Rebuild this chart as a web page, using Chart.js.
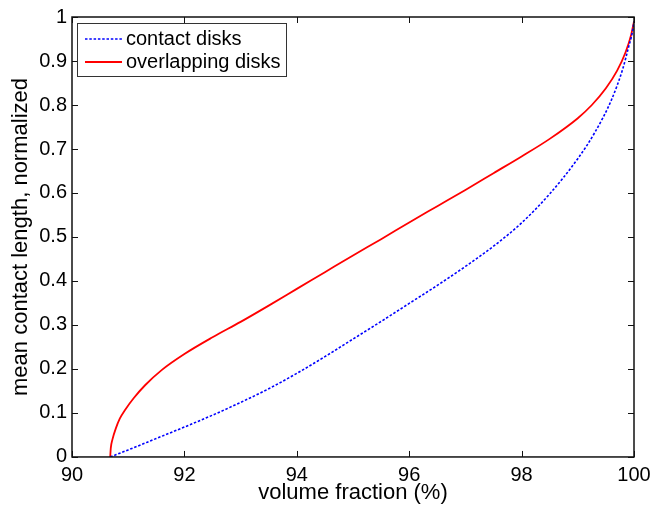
<!DOCTYPE html>
<html>
<head>
<meta charset="utf-8">
<script src="https://cdn.jsdelivr.net/npm/chart.js@4.4.1/dist/chart.umd.min.js"></script>
<style>
  html, body { margin: 0; padding: 0; background: #fff; }
  #wrap { width: 664px; height: 508px; }
</style>
</head>
<body>
<div id="wrap"><canvas id="fraction-chart" width="664" height="508"></canvas></div>
<script>
//
// Mean contact length vs volume fraction
//

// Data
var contactX = [90.68, 91, 91.5, 92, 92.5, 93, 93.5, 94, 94.5, 95, 95.5, 96, 96.5, 97, 97.5,
	98, 98.5, 99, 99.3, 99.6, 99.8, 99.9, 99.97, 100];
var contactDisks = [0, 0.016, 0.042, 0.068, 0.095, 0.124, 0.155, 0.19, 0.228, 0.268, 0.308, 0.349, 0.39,
	0.433, 0.479, 0.532, 0.598, 0.678, 0.737, 0.812, 0.882, 0.93, 0.965, 0.99];
var overlapX = [90.68, 90.69, 90.72, 90.78, 90.85, 90.95, 91.1, 91.3, 91.6, 92, 92.5, 93, 93.5, 94,
	94.5, 95, 95.5, 96, 96.5, 97, 97.5, 98, 98.5, 99, 99.25, 99.5, 99.7, 99.85, 99.95, 100];
var overlappingDisks = [0, 0.02, 0.04, 0.065, 0.087, 0.108, 0.134, 0.163, 0.198, 0.234, 0.272, 0.307,
	0.344, 0.382, 0.42, 0.458, 0.495, 0.533, 0.57, 0.607, 0.645, 0.683, 0.723, 0.77, 0.8, 0.838,
	0.878, 0.92, 0.96, 0.99];
var seriesLabels = ['contact disks', 'overlapping disks'];
var xTicks = [90, 92, 94, 96, 98, 100];
var yTicks = [0, 0.1, 0.2, 0.3, 0.4, 0.5, 0.6, 0.7, 0.8, 0.9, 1];

var FONT = "'Liberation Sans', Arial, Helvetica, sans-serif";

function toPoints(xs, ys) {
	return xs.map(function(x, i) { return { x: x, y: ys[i] }; });
}

// Box + inward ticks on all four sides, MATLAB style
var axesBox = {
	id: 'axesBox',
	afterDatasetsDraw: function(chart) {
		var ctx = chart.ctx, a = chart.chartArea;
		var sx = chart.scales.x, sy = chart.scales.y;
		ctx.save();
		ctx.strokeStyle = '#111';
		ctx.lineWidth = 1;
		ctx.beginPath();
		sx.ticks.forEach(function(t) {
			var p = Math.round(sx.getPixelForValue(t.value)) + 0.5;
			ctx.moveTo(p, a.bottom); ctx.lineTo(p, a.bottom - 6);
			ctx.moveTo(p, a.top); ctx.lineTo(p, a.top + 6);
		});
		sy.ticks.forEach(function(t) {
			var p = Math.round(sy.getPixelForValue(t.value)) + 0.5;
			ctx.moveTo(a.left, p); ctx.lineTo(a.left + 6, p);
			ctx.moveTo(a.right, p); ctx.lineTo(a.right - 6, p);
		});
		ctx.stroke();
		ctx.lineWidth = 1.5;
		ctx.strokeRect(a.left, a.top, a.right - a.left, a.bottom - a.top);
		ctx.restore();
	}
};

// Legend drawn inside the axes, top-left
var insideLegend = {
	id: 'insideLegend',
	afterDraw: function(chart) {
		var ctx = chart.ctx, a = chart.chartArea;
		var bx = a.left + 5, by = a.top + 6, bw = 209, bh = 53;
		ctx.save();
		ctx.fillStyle = '#fff';
		ctx.fillRect(bx, by, bw, bh);
		ctx.strokeStyle = '#333';
		ctx.lineWidth = 1;
		ctx.strokeRect(bx + 0.5, by + 0.5, bw, bh);
		ctx.font = '20px ' + FONT;
		ctx.textBaseline = 'middle';
		chart.data.datasets.forEach(function(ds, i) {
			var ly = by + 16 + i * 23;
			ctx.strokeStyle = ds.borderColor;
			ctx.lineWidth = ds.borderWidth;
			ctx.setLineDash(ds.borderDash || []);
			ctx.beginPath();
			ctx.moveTo(bx + 8, ly); ctx.lineTo(bx + 45, ly);
			ctx.stroke();
			ctx.setLineDash([]);
			ctx.fillStyle = '#000';
			ctx.fillText(ds.label, bx + 49, ly);
		});
		ctx.restore();
	}
};

var FractionChart = (function() {

	var $canvas = document.getElementById('fraction-chart');

	function initChart(canvas) {
		var chart = new Chart(canvas, {
			type: 'line',
			data: {
				datasets: [{
					label: seriesLabels[0],
					data: toPoints(contactX, contactDisks),
					borderColor: '#0000ff',
					borderWidth: 1.6,
					borderDash: [2.5, 1.8],
					pointRadius: 0,
					fill: false,
					cubicInterpolationMode: 'monotone'
				}, {
					label: seriesLabels[1],
					data: toPoints(overlapX, overlappingDisks),
					borderColor: '#ff0000',
					borderWidth: 1.8,
					pointRadius: 0,
					fill: false,
					cubicInterpolationMode: 'monotone'
				}]
			},
			options: {
				responsive: false,
				animation: false,
				devicePixelRatio: 1,
				layout: { padding: { left: 0, right: 30, top: 16, bottom: 0 } },
				plugins: {
					legend: { display: false },
					tooltip: { enabled: false }
				},
				scales: {
					x: {
						type: 'linear',
						min: 90,
						max: 100,
						afterBuildTicks: function(s) { s.ticks = xTicks.map(function(v) { return { value: v }; }); },
						grid: { display: false, drawTicks: false },
						border: { display: false },
						ticks: {
							padding: 10,
							color: '#000',
							maxRotation: 0,
							font: { family: FONT, size: 20, lineHeight: 0.9 }
						},
						title: {
							display: true,
							text: 'volume fraction (%)',
							color: '#000',
							font: { family: FONT, size: 22, lineHeight: 0.82 },
							padding: { top: -11, bottom: 6 }
						}
					},
					y: {
						type: 'linear',
						min: 0,
						max: 1,
						afterBuildTicks: function(s) { s.ticks = yTicks.map(function(v) { return { value: v }; }); },
						afterFit: function(s) { s.width = 72; },
						grid: { display: false, drawTicks: false },
						border: { display: false },
						ticks: {
							padding: 5,
							color: '#000',
							font: { family: FONT, size: 20 },
							callback: function(v) { return String(Math.round(v * 10) / 10); }
						},
						title: {
							display: true,
							text: 'mean contact length, normalized',
							color: '#000',
							font: { family: FONT, size: 22 },
							padding: { top: 8, bottom: 0 }
						}
					}
				}
			},
			plugins: [axesBox, insideLegend]
		});
		return chart;
	}

	if ($canvas) {
		initChart($canvas);
	}

})();
</script>
</body>
</html>
